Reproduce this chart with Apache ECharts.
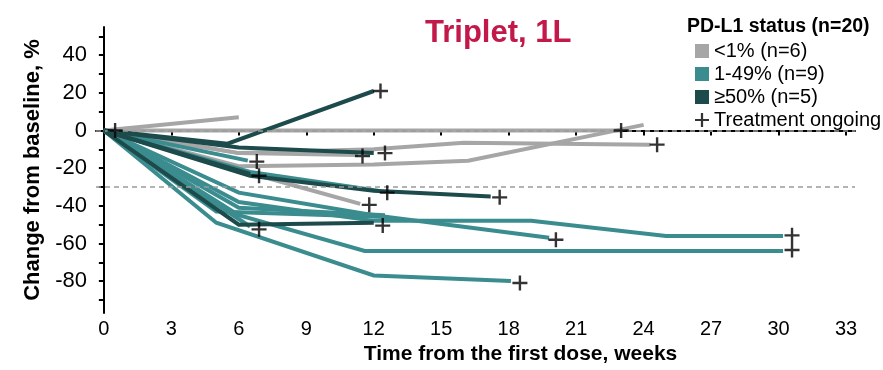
<!DOCTYPE html>
<html><head><meta charset="utf-8">
<script src="https://cdn.jsdelivr.net/npm/echarts@6/dist/echarts.min.js"></script>
<style>html,body{margin:0;padding:0;background:#fff}#c{width:883px;height:370px}</style>
</head><body><div id="c"></div>
<script>
// ---- data (week, % change from baseline) ----
const groupNames = ['<1% (n=6)', '1-49% (n=9)', '≥50% (n=5)'];
const ongoingName = 'Treatment ongoing';
const xTicks = [0, 3, 6, 9, 12, 15, 18, 21, 24, 27, 30, 33];
const yTickLabels = [-80, -60, -40, -20, 0, 20, 40];
const yTicks = [-90, -80, -70, -60, -50, -40, -30, -20, -10, 0, 10, 20, 30, 40, 50];
const refLevels = [0, -30];

const gray1 = [[0,0],[6,7]];
const gray2 = [[0,0],[23,0]];
const gray3 = [[0,0],[6,-19],[12,-18],[16.2,-16],[24,3]];
const gray4 = [[0,0],[6,-12],[12,-10],[16,-6.5],[24.3,-7.5]];
const gray5 = [[0,0],[6,-21],[8.7,-30],[11.4,-39]];
const gray6 = [[0,0],[6,-12],[11.3,-13]];

const teal1 = [[0,0],[6.4,-16]];
const teal2 = [[0,0],[6.5,-22],[12.2,-32]];
const teal3 = [[0,0],[5,-49],[12,-77],[18.1,-80]];
const teal4 = [[0,0],[6,-38],[12,-48],[19,-48],[25,-56],[30.2,-56]];
const teal5 = [[0,0],[6,-45],[11.6,-64],[30.2,-64]];
const teal6 = [[0,0],[6,-33],[12,-45],[19.8,-57]];
const teal7 = [[0,0],[5,-43],[12.6,-46]];
const teal8 = [[0,0],[6.5,-51]];
const teal9 = [[0,0],[6,-41],[12.5,-45]];

const dark1 = [[0,0],[5.5,-7],[12,21]];
const dark2 = [[0,0],[6,-9],[12,-12]];
const dark3 = [[0,0],[6.5,-24],[12,-32],[17.2,-35]];
const dark4 = [[0,0],[6,-50],[12,-49]];
const dark5 = [[0,0],[6.5,-23]];

const ongoing = [[0.5,0],[12.3,21],[23,0],[24.6,-7.5],[6.8,-16.5],[6.9,-24],[11.5,-13.5],[12.5,-12],
  [12.6,-33],[17.6,-35.5],[11.8,-39.5],[6.9,-52.5],[12.4,-50.5],[20.1,-58],[30.6,-55.7],[30.6,-63.5],[18.5,-81]];

const grayLines = [gray1, gray2, gray3, gray4, gray5, gray6];
const tealLines = [teal1, teal2, teal3, teal4, teal5, teal6, teal7, teal8, teal9];
const darkLines = [dark1, dark2, dark3, dark4, dark5];

// ---- styling ----
const colors = ['#A6A6A6', '#3A8C8F', '#1D4B4C'];
const plusPath = 'path://M6.3,0H8.7V6.3H15V8.7H8.7V15H6.3V8.7H0V6.3H6.3Z';
const sans = "'Liberation Sans', Arial, sans-serif";

const series = [];
series.push({
  type: 'line', data: [], silent: true, z: 1,
  markLine: {
    silent: true, symbol: ['none', 'none'], label: {show: false},
    lineStyle: {color: '#9a9a9a', type: [5, 4], width: 1.5},
    data: refLevels.map(v => ({yAxis: v}))
  }
});
[grayLines, tealLines, darkLines].forEach((grp, gi) => {
  grp.forEach(pts => {
    series.push({
      type: 'line', name: groupNames[gi], data: pts, showSymbol: false, symbol: 'none',
      z: 2 + gi, color: colors[gi],
      lineStyle: {color: colors[gi], width: 4, cap: 'butt', join: 'miter'},
      itemStyle: {color: colors[gi]}, animation: false
    });
  });
});
series.push({
  type: 'scatter', name: ongoingName, data: ongoing, symbol: plusPath, symbolSize: 15,
  itemStyle: {color: '#000'}, z: 10, animation: false
});

const chart = echarts.init(document.getElementById('c'));
chart.setOption({
  animation: false,
  backgroundColor: '#fff',
  title: [
    {text: 'Triplet, 1L', left: 420, top: 13, textStyle: {color: '#C3184A', fontSize: 31, fontWeight: 'bold', fontFamily: sans}},
    {text: 'PD-L1 status (n=20)', left: 682, top: 12, textStyle: {color: '#000', fontSize: 19.5, fontWeight: 'bold', fontFamily: sans}}
  ],
  legend: {
    orient: 'vertical', left: 690, top: 36, itemWidth: 14, itemHeight: 14, itemGap: 3,
    textStyle: {fontSize: 20, color: '#000', fontFamily: sans},
    data: [
      {name: groupNames[0], icon: 'rect'},
      {name: groupNames[1], icon: 'rect'},
      {name: groupNames[2], icon: 'rect'},
      {name: ongoingName, icon: plusPath}
    ],
    selectedMode: false
  },
  grid: {left: 96, right: 28, top: 27, bottom: 52, containLabel: false},
  xAxis: {
    type: 'value', min: -0.35, max: 33.4,
    name: 'Time from the first dose, weeks', nameLocation: 'middle', nameGap: 28,
    nameTextStyle: {fontSize: 21, fontWeight: 'bold', color: '#000', fontFamily: sans, padding: [0, 0, 0, 90]},
    axisLine: {show: true, lineStyle: {color: '#000', width: 2}},
    axisTick: {show: true, customValues: xTicks, length: 5, lineStyle: {color: '#000', width: 2}},
    axisLabel: {customValues: xTicks, fontSize: 20, color: '#000', margin: 6, fontFamily: sans},
    splitLine: {show: false}
  },
  yAxis: {
    type: 'value', min: -97, max: 55,
    name: 'Change from baseline, %', nameLocation: 'middle', nameGap: 50, nameRotate: 90,
    nameTextStyle: {fontSize: 22, fontWeight: 'bold', color: '#000', fontFamily: sans},
    axisLine: {show: true, lineStyle: {color: '#000', width: 2}},
    axisTick: {show: true, customValues: yTicks, length: 5, lineStyle: {color: '#000', width: 2}},
    axisLabel: {customValues: yTickLabels, fontSize: 22, color: '#000', margin: 9, fontFamily: sans},
    splitLine: {show: false}
  },
  series: series
});
</script>
</body></html>
